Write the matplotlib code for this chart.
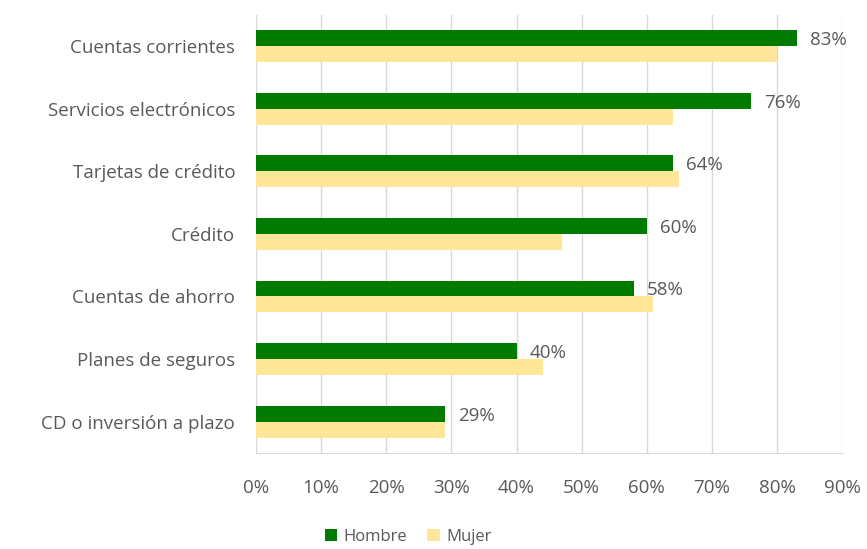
import matplotlib
matplotlib.use("Agg")
import matplotlib.pyplot as plt
import numpy as np
from matplotlib.ticker import FuncFormatter

categories = ["Cuentas corrientes", "Servicios electrónicos", "Tarjetas de crédito",
              "Crédito", "Cuentas de ahorro", "Planes de seguros", "CD o inversión a plazo"]
hombre = [83, 76, 64, 60, 58, 40, 29]
mujer = [80, 64, 65, 47, 61, 44, 29]
xticks = [0, 10, 20, 30, 40, 50, 60, 70, 80, 90]

green = "#007A00"
yellow = "#FFE699"
text_col = "#595959"
grid_col = "#D9D9D9"

plt.rcParams["font.family"] = ["Open Sans", "DejaVu Sans"]

fig = plt.figure(figsize=(8.67, 5.49), dpi=100)
ax = fig.add_axes([0.2953, 0.175, 0.676, 0.798])

n = len(categories)
y = np.arange(n)
h = 0.255
ax.barh(y - h / 2, hombre, height=h, color=green, label="Hombre", zorder=3)
ax.barh(y + h / 2, mujer, height=h, color=yellow, label="Mujer", zorder=3)

for yi, v in zip(y, hombre):
    ax.text(v + 2.0, yi - h / 2 + 0.03, f"{v}%", va="center", ha="left",
            fontsize=13.5, color=text_col)

ax.set_ylim(n - 0.5, -0.5)
ax.set_xlim(0, 90)
ax.set_yticks(y)
ax.set_yticklabels(categories, fontsize=13.5, color=text_col)
ax.set_xticks(xticks)
ax.xaxis.set_major_formatter(FuncFormatter(lambda v, p: f"{int(v)}%"))
ax.tick_params(axis="x", labelsize=13.5, labelcolor=text_col, length=0, pad=19)
ax.tick_params(axis="y", length=0, pad=15)

ax.grid(axis="x", color=grid_col, linewidth=1, zorder=0)
for s in ["top", "right"]:
    ax.spines[s].set_visible(False)
ax.spines["left"].set_color(grid_col)
ax.spines["bottom"].set_color(grid_col)

leg = fig.legend(loc="center", bbox_to_anchor=(0.471, 0.022), ncol=2,
                 frameon=False, fontsize=12, handlelength=0.75, handleheight=0.75,
                 columnspacing=1.2, handletextpad=0.4)
for t in leg.get_texts():
    t.set_color(text_col)

fig.savefig("out.png", dpi=100, facecolor="white")
